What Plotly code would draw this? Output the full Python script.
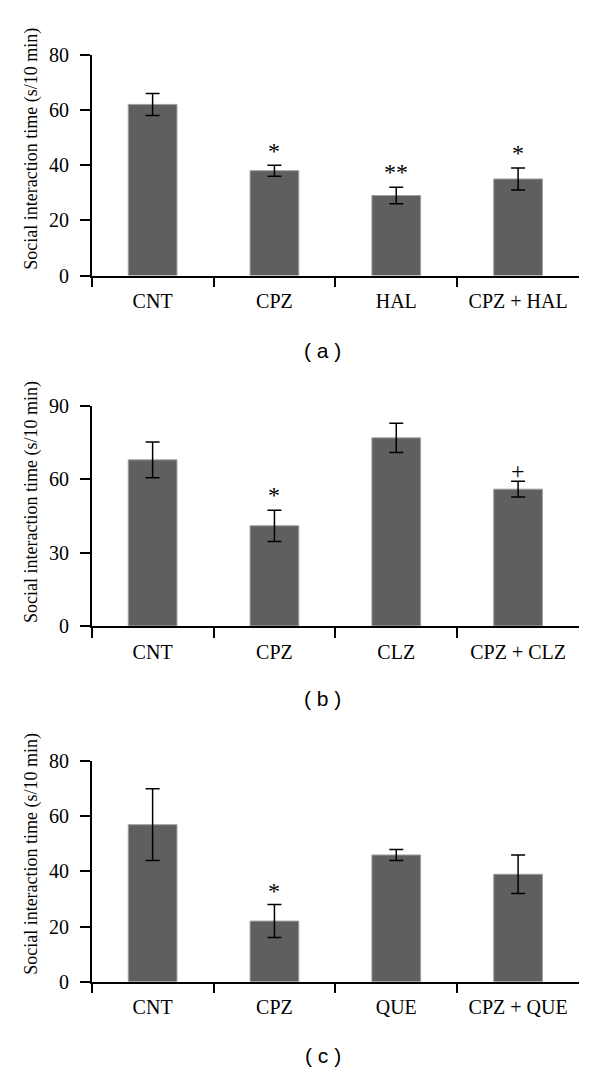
import plotly.graph_objects as go

# ---- data ----
cats_a = ["CNT", "CPZ", "HAL", "CPZ + HAL"]
vals_a = [62, 38, 29, 35]
err_a = [4, 2, 3, 4]
sig_a = ["", "*", "**", "*"]
sig_y_a = [0, 45, 37.5, 44.5]

cats_b = ["CNT", "CPZ", "CLZ", "CPZ + CLZ"]
vals_b = [68, 41, 77, 56]
err_b = [7.3, 6.4, 6, 3.2]
sig_b = ["", "*", "", "+"]
sig_y_b = [0, 53.5, 0, 63.5]

cats_c = ["CNT", "CPZ", "QUE", "CPZ + QUE"]
vals_c = [57, 22, 46, 39]
err_c = [13, 6, 2, 7]
sig_c = ["", "*", "", ""]
sig_y_c = [0, 33, 0, 0]

yranges = [[0, 80], [0, 90], [0, 80]]
yticks = [[0, 20, 40, 60, 80], [0, 30, 60, 90], [0, 20, 40, 60, 80]]
panel_labels = ["( a )", "( b )", "( c )"]
ytitle = "Social interaction time (s/10 min)"

# page is 600x1080; the html body has an 8px margin, so the figure is
# sized to fit inside it and page-pixel positions are shifted by 8.
OFF = 8
W, H = 600 - 2 * OFF, 1080 - 2 * OFF


def fx(px):
    return (px - OFF) / W


def fy(py):
    return 1 - (py - OFF) / H


x_dom = [fx(91.7), fx(579)]
px_rows = [(44.5, 270), (403.3, 627.7), (766, 991)]   # (top, bottom) page px
title_px_y = [141, 501.7, 861]
label_px_y = [346.7, 701.7, 1066.7]

SERIF = "Liberation Serif"
SANS = "Liberation Sans"
BAR = "#5f5f5f"

fig = go.Figure()
panels = [(cats_a, vals_a, err_a, sig_a, sig_y_a),
          (cats_b, vals_b, err_b, sig_b, sig_y_b),
          (cats_c, vals_c, err_c, sig_c, sig_y_c)]

for i, (cats, vals, errs, sigs, sigy) in enumerate(panels):
    n = i + 1
    xa = "x" if n == 1 else f"x{n}"
    ya = "y" if n == 1 else f"y{n}"
    fig.add_trace(go.Bar(
        x=cats, y=vals, xaxis=xa, yaxis=ya, width=0.4,
        marker=dict(color=BAR, line=dict(color="#a0a0a0", width=1)),
        error_y=dict(type="data", array=errs, visible=True,
                     color="black", thickness=1.5, width=7),
        showlegend=False, hoverinfo="skip"))
    top, bot = px_rows[i]
    dom = [fy(bot), fy(top)]
    xkey = "xaxis" if n == 1 else f"xaxis{n}"
    ykey = "yaxis" if n == 1 else f"yaxis{n}"
    fig.update_layout(**{
        xkey: dict(domain=x_dom, anchor=ya, type="category",
                   showline=True, linecolor="black", linewidth=1.5,
                   ticks="outside", tickson="boundaries", ticklen=10,
                   tickwidth=1.5, tickcolor="black",
                   showgrid=False, zeroline=False,
                   tickfont=dict(family=SERIF, size=20, color="black"),
                   ticklabelstandoff=7),
        ykey: dict(domain=dom, anchor=xa, range=yranges[i],
                   tickvals=yticks[i], showline=True, linecolor="black",
                   linewidth=1.5, ticks="outside", ticklen=10, tickwidth=1.5,
                   tickcolor="black", showgrid=False, zeroline=False,
                   tickfont=dict(family=SERIF, size=20, color="black"),
                   ticklabelstandoff=7),
    })
    for c, s, sy in zip(cats, sigs, sigy):
        if s:
            fig.add_annotation(x=c, y=sy, xref=xa, yref=ya, text=s,
                               showarrow=False, yanchor="middle",
                               font=dict(family=SERIF, size=24, color="black"))
    fig.add_annotation(x=fx(31.5), y=fy(title_px_y[i]), xref="paper",
                       yref="paper", text=ytitle, textangle=-90,
                       showarrow=False, xanchor="center", yanchor="middle",
                       font=dict(family=SERIF, size=18, color="black"))
    fig.add_annotation(x=fx(322.5), y=fy(label_px_y[i]), xref="paper",
                       yref="paper", text=panel_labels[i], showarrow=False,
                       xanchor="center", yanchor="middle",
                       font=dict(family=SANS, size=21, color="black"))

fig.update_layout(width=W, height=H, margin=dict(l=0, r=0, t=0, b=0),
                  plot_bgcolor="white", paper_bgcolor="white", bargap=0.6)

fig.write_html("out.html")
